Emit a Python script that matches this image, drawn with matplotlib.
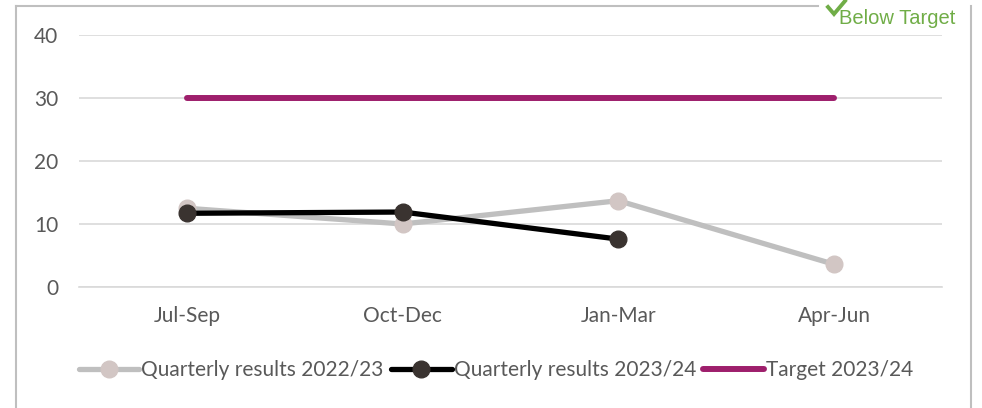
import matplotlib.pyplot as plt
from matplotlib.lines import Line2D

plt.rcParams['font.family'] = ['Lato', 'DejaVu Sans']

quarters = ["Jul-Sep", "Oct-Dec", "Jan-Mar", "Apr-Jun"]
results_2223 = [12.5, 10.0, 13.7, 3.6]
results_2324 = [11.7, 11.9, 7.6]
target_2324 = [30, 30, 30, 30]

W, H = 982, 408
fig = plt.figure(figsize=(W / 100, H / 100), dpi=100)
ax = fig.add_axes([79 / W, 1 - 287 / H, (942 - 79) / W, (287 - 35) / H])

x = list(range(len(quarters)))
ax.plot(x, results_2223, color="#BFBFBF", linewidth=3.8, marker="o", markersize=12,
        markerfacecolor="#D2C6C4", markeredgecolor="#D2C6C4", label="Quarterly results 2022/23",
        solid_capstyle="round", zorder=3)
ax.plot(x[:len(results_2324)], results_2324, color="black", linewidth=3.8, marker="o", markersize=12,
        markerfacecolor="#3A3330", markeredgecolor="#3A3330", label="Quarterly results 2023/24",
        solid_capstyle="round", zorder=4)
ax.plot(x, target_2324, color="#9E1F6C", linewidth=4.3, label="Target 2023/24",
        solid_capstyle="round", zorder=2)

ax.set_xlim(-0.5, 3.5)
ax.set_ylim(0, 40)
ax.set_yticks([0, 10, 20, 30, 40])
ax.set_xticks(x)
ax.set_xticklabels(quarters)
ax.grid(axis="y", color="#D9D9D9", linewidth=1.2)
ax.set_axisbelow(True)
for s in ["top", "right", "left"]:
    ax.spines[s].set_visible(False)
ax.spines["bottom"].set_color("#D9D9D9")
ax.spines["bottom"].set_linewidth(1.2)
ax.tick_params(length=0, labelsize=15, labelcolor="#595959")
ax.tick_params(axis="y", pad=15)
ax.tick_params(axis="x", pad=14)

ax.legend(loc="center", bbox_to_anchor=(496 / W, 1 - 370 / H), bbox_transform=fig.transFigure,
          ncol=3, frameon=False, fontsize=15, labelcolor="#595959", handlelength=2.9,
          handletextpad=0.1, columnspacing=0.35)

# chart border (top partly hidden by the status label)
border = "#BFBFBF"
fig.add_artist(Line2D([16 / W, 16 / W], [0, 1 - 6 / H], color=border, linewidth=1.5))
fig.add_artist(Line2D([16 / W, 818 / W], [1 - 6 / H, 1 - 6 / H], color=border, linewidth=1.5))
fig.add_artist(Line2D([971 / W, 971 / W], [0, 1 - 6 / H], color=border, linewidth=1.5))

# status tick icon + label
fig.add_artist(Line2D([828 / W, 834 / W, 845 / W], [1 - 7 / H, 1 - 14 / H, 1 - 1 / H],
                      color="#70AD47", linewidth=2.8, solid_joinstyle="miter"))
fig.text(839 / W, 1 - 18 / H, "Below Target", color="#70AD47", fontsize=14.5, ha="left",
         va="center", family="Liberation Sans")

fig.savefig("out.png", dpi=100)
